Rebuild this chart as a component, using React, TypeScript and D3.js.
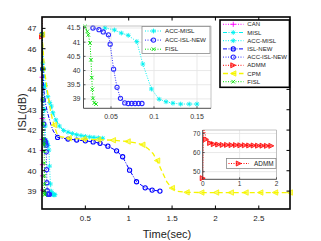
import React from 'react';
import * as d3 from 'd3';

const FONT = '"Liberation Sans", Arial, Helvetica, sans-serif';

// ---------------- tick labels ----------------
const mainXTicks = [0.5, 1, 1.5, 2, 2.5];
const mainYTicks = [39, 40, 41, 42, 43, 44, 45, 46, 47];
const inset1XTicks = [0.05, 0.1, 0.15];
const inset1YTicks = [39, 39.5, 40, 40.5, 41, 41.5];
const inset2XTicks = [0, 1, 2];
const inset2YTicks = [50, 60, 70];

const seriesNames = ['CAN', 'MISL', 'ACC-MISL', 'ISL-NEW', 'ACC-ISL-NEW', 'ADMM', 'CPM', 'FISL'];
const inset1Names = ['ACC-MISL', 'ACC-ISL-NEW', 'FISL'];
const inset2Names = ['ADMM'];

// ---------------- series values (time in sec, ISL in dB) ----------------
const canTime = [0, 0.001, 0.002, 0.003, 0.004, 0.005, 0.006, 0.007];
const canIsl = [46.7, 44.6, 42.57, 41.54, 41.0, 40.3, 39.75, 39.05];

const mislTime = [0, 0.02, 0.04, 0.068, 0.09, 0.107, 0.126, 0.16, 0.2, 0.25, 0.3, 0.35, 0.4, 0.45, 0.5, 0.55, 0.6, 0.65, 0.7];
const mislIsl = [46.7, 45.0, 44.2, 43.64, 43.35, 43.18, 42.85, 42.5, 42.2, 41.98, 41.9, 41.83, 41.77, 41.73, 41.69, 41.66, 41.64, 41.62, 41.6];

const accMislTime = [0, 0.01, 0.02, 0.03, 0.037, 0.043, 0.054, 0.062, 0.07, 0.08, 0.087, 0.097, 0.106, 0.114, 0.122, 0.131, 0.141, 0.15];
const accMislIsl = [46.7, 45.3, 44.1, 43.0, 42.2, 41.5, 41.43, 41.32, 41.24, 41.02, 40.23, 39.35, 38.99, 38.9, 38.85, 38.82, 38.82, 38.82];

const islNewTime = [0, 0.01, 0.02, 0.04, 0.068, 0.1, 0.13, 0.18, 0.3, 0.4, 0.5, 0.59, 0.67, 0.76, 0.86, 0.93, 1.01, 1.09, 1.19, 1.27, 1.36];
const islNewIsl = [46.7, 45.2, 44.0, 43.3, 42.8, 42.3, 41.95, 41.64, 41.56, 41.51, 41.47, 41.42, 41.35, 41.21, 40.98, 40.69, 40.03, 39.46, 39.16, 39.05, 39.0];
const islNewMarkTime = [0.18, 0.3, 0.4, 0.5, 0.59, 0.67, 0.76, 0.86, 0.93, 1.01, 1.09, 1.19, 1.27, 1.36];
const islNewMarkIsl = [41.64, 41.56, 41.51, 41.47, 41.42, 41.35, 41.21, 40.98, 40.69, 40.03, 39.46, 39.16, 39.05, 39.0];

const accIslNewTime = [0, 0.007, 0.014, 0.021, 0.029, 0.036, 0.041, 0.047, 0.049, 0.053, 0.057, 0.061, 0.066, 0.07, 0.074, 0.078, 0.082, 0.086];
const accIslNewIsl = [46.7, 45.0, 43.5, 42.3, 41.5, 41.44, 41.36, 41.26, 40.93, 40.05, 39.41, 39.02, 38.86, 38.84, 38.84, 38.84, 38.84, 38.84];

const admmTime = [0, 0.02, 0.09, 0.2, 0.3, 0.42, 0.54, 0.66, 0.78, 0.9, 1.02, 1.14, 1.26, 1.38, 1.5, 1.62, 1.74, 1.86];
const admmIsl = [46.6, 75, 66.9, 65.0, 64.4, 64.2, 64.0, 64.0, 63.9, 63.9, 63.8, 63.8, 63.7, 63.7, 63.6, 63.6, 63.5, 63.5];

const cpmTime = [0, 0.03, 0.05, 0.07, 0.1, 0.137, 0.17, 0.21, 0.307, 0.477, 0.647, 0.817, 0.987, 1.1, 1.157, 1.22, 1.28, 1.327, 1.38, 1.44, 1.497, 1.56, 1.667, 1.837, 2.007, 2.177, 2.347, 2.517, 2.687, 2.857, 2.9];
const cpmIsl = [46.7, 44.9, 44.3, 43.7, 42.9, 42.25, 41.85, 41.68, 41.6, 41.56, 41.53, 41.5, 41.44, 41.36, 41.28, 41.1, 40.85, 40.5, 40.0, 39.45, 39.15, 38.99, 38.94, 38.93, 38.93, 38.93, 38.93, 38.93, 38.93, 38.93, 38.93];
const cpmMarkTime = [0, 0.137, 0.307, 0.477, 0.647, 0.817, 0.987, 1.157, 1.327, 1.497, 1.667, 1.837, 2.007, 2.177, 2.347, 2.517, 2.687, 2.857];
const cpmMarkIsl = [46.7, 42.25, 41.6, 41.56, 41.53, 41.5, 41.44, 41.28, 40.5, 39.15, 38.94, 38.93, 38.93, 38.93, 38.93, 38.93, 38.93, 38.93];

const fislTime = [0, 0.005, 0.01, 0.015, 0.0198, 0.0224, 0.0236, 0.0256, 0.0267, 0.0276, 0.0283, 0.029, 0.0306, 0.0326];
const fislIsl = [46.7, 45.0, 43.5, 42.3, 41.55, 41.38, 41.26, 40.97, 40.38, 39.75, 39.34, 39.02, 38.86, 38.82];

// ---------------- styles ----------------
type P = [number, number];
const zip = (t: number[], v: number[]): P[] => t.map((x, i) => [x, v[i]] as P);

interface Style { color: string; dash: string; marker: string; size: number; width: number }
const STYLES: Record<string, Style> = {
  'CAN': { color: '#ff00ff', dash: '1,1.5', marker: '+', size: 2.6, width: 1 },
  'MISL': { color: '#00f0f0', dash: '4,1.5,1,1.5', marker: '*', size: 2.4, width: 1.1 },
  'ACC-MISL': { color: '#00f0f0', dash: '1,1.5', marker: '*', size: 2.4, width: 1 },
  'ISL-NEW': { color: '#0000ff', dash: '4,1.5,1,1.5', marker: 'o', size: 2.1, width: 1 },
  'ACC-ISL-NEW': { color: '#2a2aff', dash: '1,1.5', marker: 'o', size: 2.1, width: 1 },
  'ADMM': { color: '#ff0000', dash: '1,1.5', marker: '>', size: 2.5, width: 1 },
  'CPM': { color: '#f5f500', dash: '5,3', marker: '<', size: 2.7, width: 1.3 },
  'FISL': { color: '#00e000', dash: '1,1.5', marker: 'x', size: 1.8, width: 1 },
};

const SERIES: Record<string, { pts: P[]; marks: P[] }> = {
  'CAN': { pts: zip(canTime, canIsl), marks: zip(canTime, canIsl) },
  'MISL': { pts: zip(mislTime, mislIsl), marks: zip(mislTime, mislIsl) },
  'ACC-MISL': { pts: zip(accMislTime, accMislIsl), marks: zip(accMislTime, accMislIsl) },
  'ISL-NEW': { pts: zip(islNewTime, islNewIsl), marks: zip(islNewMarkTime, islNewMarkIsl) },
  'ACC-ISL-NEW': { pts: zip(accIslNewTime, accIslNewIsl), marks: zip(accIslNewTime, accIslNewIsl) },
  'ADMM': { pts: zip(admmTime, admmIsl), marks: zip(admmTime, admmIsl) },
  'CPM': { pts: zip(cpmTime, cpmIsl), marks: zip(cpmMarkTime, cpmMarkIsl) },
  'FISL': { pts: zip(fislTime, fislIsl), marks: zip(fislTime, fislIsl) },
};

function Mark({ kind, x, y, s, color }: { kind: string; x: number; y: number; s: number; color: string }) {
  const sw = 0.9;
  switch (kind) {
    case '+':
      return <path d={`M${x - s},${y}H${x + s}M${x},${y - s}V${y + s}`} stroke={color} strokeWidth={sw} fill="none" />;
    case 'x':
      return <path d={`M${x - s},${y - s}L${x + s},${y + s}M${x - s},${y + s}L${x + s},${y - s}`} stroke={color} strokeWidth={sw} fill="none" />;
    case '*': {
      const a = s * 0.72;
      return <path d={`M${x - s},${y}H${x + s}M${x},${y - s}V${y + s}M${x - a},${y - a}L${x + a},${y + a}M${x - a},${y + a}L${x + a},${y - a}`} stroke={color} strokeWidth={sw} fill="none" />;
    }
    case 'o':
      return <circle cx={x} cy={y} r={s} stroke={color} strokeWidth={1.1} fill="none" />;
    case '>':
      return <path d={`M${x + s},${y}L${x - s},${y - s}L${x - s},${y + s}Z`} stroke={color} strokeWidth={0.8} fill={color} fillOpacity={0.55} />;
    case '<':
      return <path d={`M${x - s},${y}L${x + s},${y - s}L${x + s},${y + s}Z`} stroke={color} strokeWidth={0.8} fill={color} fillOpacity={0.55} />;
    default:
      return null;
  }
}

type Scale = d3.ScaleLinear<number, number>;

function SeriesView({ name, xs, ys, clip }: { name: string; xs: Scale; ys: Scale; clip: string }) {
  const st = STYLES[name];
  const data = SERIES[name];
  const line = d3.line<P>().x((d) => xs(d[0])).y((d) => ys(d[1]));
  const [x0, x1] = xs.domain();
  const [y0, y1] = ys.domain();
  const inside = (d: P) => d[0] >= x0 - 1e-9 && d[0] <= x1 + 1e-9 && d[1] >= y0 && d[1] <= y1;
  return (
    <g>
      <path d={line(data.pts) || ''} fill="none" stroke={st.color} strokeWidth={st.width} strokeDasharray={st.dash} clipPath={`url(#${clip})`} />
      {data.marks.filter(inside).map((d, i) => (
        <Mark key={i} kind={st.marker} x={xs(d[0])} y={ys(d[1])} s={st.size} color={st.color} />
      ))}
    </g>
  );
}

function LegendRow({ name, x0, x1, y, tx, fs }: { name: string; x0: number; x1: number; y: number; tx: number; fs: number }) {
  const st = STYLES[name];
  return (
    <g>
      <line x1={x0} x2={x1} y1={y} y2={y} stroke={st.color} strokeWidth={st.width} strokeDasharray={st.dash} />
      <Mark kind={st.marker} x={(x0 + x1) / 2} y={y} s={st.size} color={st.color} />
      <text x={tx} y={y + fs * 0.36} fontSize={fs} fill="#222" fontFamily={FONT}>{name}</text>
    </g>
  );
}

export default function App() {
  const xM = d3.scaleLinear().domain([0, 2.86]).range([42, 290]);
  const yM = d3.scaleLinear().domain([38.12, 47.56]).range([209, 17]);
  const x1 = d3.scaleLinear().domain([0.018, 0.1663]).range([83.5, 211]);
  const y1 = d3.scaleLinear().domain([38.67, 41.57]).range([108.3, 26]);
  const x2 = d3.scaleLinear().domain([0, 2]).range([202.7, 276.5]);
  const y2 = d3.scaleLinear().domain([46, 71.8]).range([179.3, 130]);

  const [mL, mR] = xM.range();
  const [mB, mT] = yM.range();
  const [aL, aR] = x1.range();
  const [aB, aT] = y1.range();
  const [bL, bR] = x2.range();
  const [bB, bT] = y2.range();

  const tl = 3.5;
  const grid = '#e3e3e3';
  const axc = '#3a3a3a';

  return (
    <svg width={321} height={241} style={{ position: 'fixed', left: 0, top: 0, background: '#fff' }} fontFamily={FONT}>
      <defs>
        <clipPath id="cm"><rect x={mL} y={mT} width={mR - mL} height={mB - mT} /></clipPath>
        <clipPath id="c1"><rect x={aL} y={aT} width={aR - aL} height={aB - aT} /></clipPath>
        <clipPath id="c2"><rect x={bL} y={bT} width={bR - bL} height={bB - bT} /></clipPath>
      </defs>
      <rect x={0} y={0} width={321} height={241} fill="#fff" />

      {/* main series */}
      {seriesNames.map((n) => <SeriesView key={n} name={n} xs={xM} ys={yM} clip="cm" />)}

      {/* main axes */}
      <rect x={mL} y={mT} width={mR - mL} height={mB - mT} fill="none" stroke="#000" strokeWidth={1.6} />
      {mainXTicks.map((t) => (
        <g key={'mx' + t}>
          <line x1={xM(t)} x2={xM(t)} y1={mB} y2={mB - tl} stroke="#000" strokeWidth={1} />
          <line x1={xM(t)} x2={xM(t)} y1={mT} y2={mT + tl} stroke="#000" strokeWidth={1} />
          <text x={xM(t)} y={220.7} fontSize={8} textAnchor="middle" fill="#222">{t}</text>
        </g>
      ))}
      {mainYTicks.map((t) => (
        <g key={'my' + t}>
          <line x1={mL} x2={mL + tl} y1={yM(t)} y2={yM(t)} stroke="#000" strokeWidth={1} />
          <line x1={mR} x2={mR - tl} y1={yM(t)} y2={yM(t)} stroke="#000" strokeWidth={1} />
          <text x={36.5} y={yM(t) + 2.9} fontSize={8} textAnchor="end" fill="#222">{t}</text>
        </g>
      ))}
      <text x={167} y={238} fontSize={11} textAnchor="middle" fill="#222">Time(sec)</text>
      <text transform={`translate(26,112) rotate(-90)`} fontSize={11} textAnchor="middle" fill="#222">ISL(dB)</text>

      {/* inset 1 */}
      <rect x={aL} y={aT} width={aR - aL} height={aB - aT} fill="#fff" />
      {inset1XTicks.map((t) => <line key={'g1x' + t} x1={x1(t)} x2={x1(t)} y1={aT} y2={aB} stroke={grid} strokeWidth={0.8} />)}
      {inset1YTicks.map((t) => <line key={'g1y' + t} x1={aL} x2={aR} y1={y1(t)} y2={y1(t)} stroke={grid} strokeWidth={0.8} />)}
      {inset1Names.map((n) => <SeriesView key={'i1' + n} name={n} xs={x1} ys={y1} clip="c1" />)}
      <line x1={aL} x2={aR} y1={aT} y2={aT} stroke="#b5b5b5" strokeWidth={0.8} />
      <line x1={aR} x2={aR} y1={aT} y2={aB} stroke="#b5b5b5" strokeWidth={0.8} />
      <line x1={aL} x2={aR} y1={aB} y2={aB} stroke={axc} strokeWidth={0.9} />
      <line x1={aL} x2={aL} y1={aT} y2={aB} stroke={axc} strokeWidth={0.9} />
      {inset1XTicks.map((t) => (
        <g key={'t1x' + t}>
          <line x1={x1(t)} x2={x1(t)} y1={aB} y2={aB - 2} stroke={axc} strokeWidth={0.8} />
          <text x={x1(t)} y={119.3} fontSize={7} textAnchor="middle" fill="#333">{t}</text>
        </g>
      ))}
      {inset1YTicks.map((t) => (
        <g key={'t1y' + t}>
          <line x1={aL} x2={aL + 2} y1={y1(t)} y2={y1(t)} stroke={axc} strokeWidth={0.8} />
          <text x={80.5} y={y1(t) + 2.5} fontSize={7} textAnchor="end" fill="#333">{t}</text>
        </g>
      ))}
      <rect x={142} y={26.5} width={68} height={27} fill="#fff" stroke="#8a8a8a" strokeWidth={0.8} />
      {inset1Names.map((n, i) => (
        <LegendRow key={'l1' + n} name={n} x0={145} x1={162} y={31 + i * 9.1} tx={165} fs={6.2} />
      ))}

      {/* inset 2 */}
      <rect x={bL} y={bT} width={bR - bL} height={bB - bT} fill="#fff" />
      {inset2XTicks.map((t) => <line key={'g2x' + t} x1={x2(t)} x2={x2(t)} y1={bT} y2={bB} stroke={grid} strokeWidth={0.8} />)}
      {inset2YTicks.map((t) => <line key={'g2y' + t} x1={bL} x2={bR} y1={y2(t)} y2={y2(t)} stroke={grid} strokeWidth={0.8} />)}
      <line x1={bL} x2={bR} y1={bT} y2={bT} stroke="#b5b5b5" strokeWidth={0.8} />
      <line x1={bR} x2={bR} y1={bT} y2={bB} stroke="#b5b5b5" strokeWidth={0.8} />
      <line x1={bL} x2={bR} y1={bB} y2={bB} stroke={axc} strokeWidth={0.9} />
      <line x1={bL} x2={bL} y1={bT} y2={bB} stroke={axc} strokeWidth={0.9} />
      {inset2Names.map((n) => <SeriesView key={'i2' + n} name={n} xs={x2} ys={y2} clip="c2" />)}
      {inset2XTicks.map((t) => (
        <g key={'t2x' + t}>
          <line x1={x2(t)} x2={x2(t)} y1={bB} y2={bB - 2} stroke={axc} strokeWidth={0.8} />
          <text x={x2(t)} y={186.3} fontSize={6.5} textAnchor="middle" fill="#333">{t}</text>
        </g>
      ))}
      {inset2YTicks.map((t) => (
        <g key={'t2y' + t}>
          <line x1={bL} x2={bL + 2} y1={y2(t)} y2={y2(t)} stroke={axc} strokeWidth={0.8} />
          <text x={200.3} y={y2(t) + 2.3} fontSize={6.5} textAnchor="end" fill="#333">{t}</text>
        </g>
      ))}
      <rect x={226.5} y={158.5} width={49.5} height={10} fill="#fff" stroke="#8a8a8a" strokeWidth={0.8} />
      {inset2Names.map((n) => (
        <LegendRow key={'l2' + n} name={n} x0={228.5} x1={249} y={163.5} tx={254} fs={6.4} />
      ))}

      {/* main legend */}
      <rect x={220} y={20} width={69.5} height={67.3} fill="#fff" stroke="#000" strokeWidth={1.6} />
      {seriesNames.map((n, i) => (
        <LegendRow key={'lm' + n} name={n} x0={223} x1={243.5} y={24.3 + i * 8.2} tx={247.3} fs={6} />
      ))}
    </svg>
  );
}
